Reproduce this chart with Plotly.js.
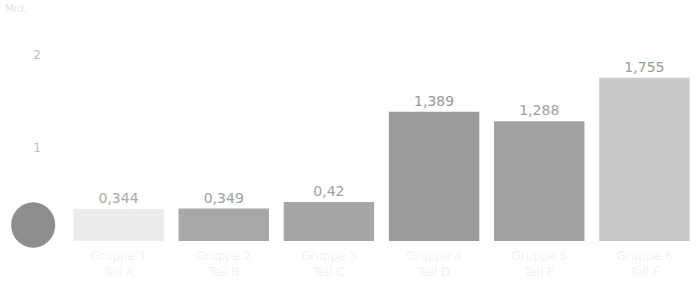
<!DOCTYPE html>
<html>
<head>
<meta charset="utf-8">
<script src="https://cdn.plot.ly/plotly-3.0.1.min.js"></script>
<style>html,body{margin:0;padding:0;background:#fff;}#chart{width:697px;height:286px;}</style>
</head>
<body>
<div id="chart"></div>
<script>
const categories = ["Gruppe 1<br>Teil A", "Gruppe 2<br>Teil B", "Gruppe 3<br>Teil C", "Gruppe 4<br>Teil D", "Gruppe 5<br>Teil E", "Gruppe 6<br>Teil F"];
const values = [0.344, 0.349, 0.42, 1.389, 1.288, 1.755];
const valueLabels = ["0,344", "0,349", "0,42", "1,389", "1,288", "1,755"];
const barColors = ["#ececec", "#a8a8a8", "#a6a6a6", "#9c9c9c", "#a2a2a2", "#c9c9c9"];
const labelColors = ["#a8a8a8", "#a0a0a0", "#a0a0a0", "#9a9a9a", "#a0a0a0", "#8fa58f"];
const yTicks = [1, 2];
const yTickText = ["1", "2"];
const unitLabel = "Mrd.";

const trace = {
  type: "bar",
  x: categories,
  y: values,
  text: valueLabels,
  textposition: "outside",
  cliponaxis: false,
  textfont: {family: "DejaVu Sans", size: 14, color: labelColors},
  marker: {color: barColors, line: {width: 0}},
  hoverinfo: "none"
};

const layout = {
  width: 697, height: 286,
  margin: {l: 66, r: 0, t: 20, b: 45},
  paper_bgcolor: "#ffffff",
  plot_bgcolor: "#ffffff",
  showlegend: false,
  bargap: 0.14,
  xaxis: {
    showgrid: false, zeroline: false, showline: false, ticks: "",
    ticklabelstandoff: 6,
    tickfont: {family: "DejaVu Sans", size: 12, color: "#f2f2f2"}
  },
  yaxis: {
    range: [0, 2.376], showgrid: false, zeroline: false, showline: false, ticks: "",
    tickvals: yTicks, ticktext: yTickText, ticklabelstandoff: 24,
    tickfont: {family: "DejaVu Sans", size: 12, color: "#bdbdbd"}
  },
  annotations: [{
    text: unitLabel, xref: "paper", yref: "paper", x: -0.1, y: 1.085,
    xanchor: "left", yanchor: "top", showarrow: false,
    font: {family: "DejaVu Sans", size: 10, color: "#e4e4e4"}
  }],
  shapes: [{
    type: "circle", xref: "paper", yref: "paper",
    x0: -0.087, x1: -0.017, y0: -0.03, y1: 0.175,
    fillcolor: "#8e8e8e", line: {width: 0}, layer: "above"
  }]
};

Plotly.newPlot("chart", [trace], layout, {displayModeBar: false, staticPlot: true});
</script>
</body>
</html>
